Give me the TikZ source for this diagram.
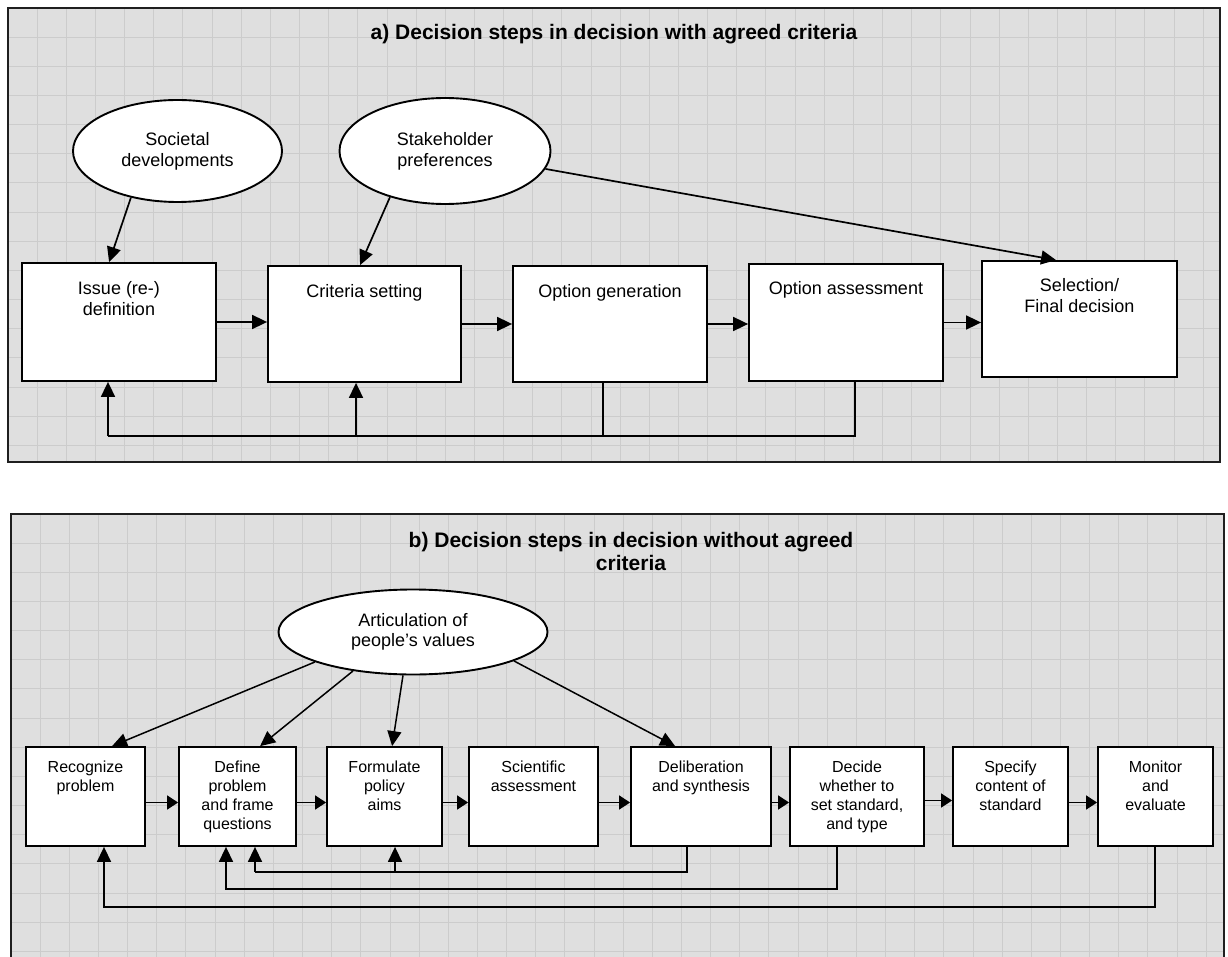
\documentclass[tikz,border=0pt]{standalone}
\usepackage{fontspec}
\setmainfont{Liberation Sans}
\usetikzlibrary{arrows.meta,shapes.geometric,calc}
\definecolor{bggray}{gray}{0.875}
\definecolor{gridgray}{gray}{0.80}
\definecolor{framecol}{gray}{0.12}
\begin{document}
\begin{tikzpicture}[x=1pt,y=-1pt,
  panelfill/.style={fill=bggray,draw=none},
  panelframe/.style={draw=framecol,line width=2.2pt},
  gridline/.style={draw=gridgray,line width=0.9pt},
  boxA/.style={draw=black,fill=white,line width=1.8pt,inner sep=0pt},
  boxB/.style={draw=black,fill=white,line width=1.8pt,inner sep=0pt},
  ell/.style={ellipse,draw=black,fill=white,line width=1.9pt,inner sep=0pt,align=center},
  lblA/.style={anchor=north,align=center,inner sep=0pt,font=\fontsize{18}{21}\selectfont},
  lblB/.style={anchor=north,align=center,inner sep=0pt,font=\fontsize{16}{18.7}\selectfont},
  ttl/.style={align=center,inner sep=0pt,font=\bfseries\fontsize{21}{23}\selectfont},
  lineA/.style={line width=1.7pt},
  arrA/.style={line width=1.7pt,-{Triangle[length=15pt,width=14pt]}},
  lineB/.style={line width=1.5pt},
  arrB/.style={line width=1.5pt,-{Triangle[length=15pt,width=14pt]}},
  arrBs/.style={line width=1.5pt,-{Triangle[length=11pt,width=14pt]}}
]
\useasboundingbox (0,0) rectangle (1228,957);
\clip (0,0) rectangle (1228,957);

% ---------------- panel a background ----------------
\fill[panelfill] (8,8) rectangle (1220,462);
\foreach \k in {1,...,41} \draw[gridline] ({8+29.15*\k},8) -- ({8+29.15*\k},462);
\foreach \k in {1,...,15} \draw[gridline] (8,{8+29.15*\k}) -- (1220,{8+29.15*\k});
\draw[panelframe] (8,8) rectangle (1220,462);

% ---------------- panel b background ----------------
\fill[panelfill] (11,514) rectangle (1224,980);
\foreach \k in {1,...,41} \draw[gridline] ({11+29.15*\k},514) -- ({11+29.15*\k},980);
\foreach \k in {1,...,16} \draw[gridline] (11,{514+29.15*\k}) -- (1224,{514+29.15*\k});
\draw[panelframe] (11,514) rectangle (1224,980);

% ---------------- panel a ----------------
\node[ttl] (ta) at (614,34) {a) Decision steps in decision with agreed criteria};

\node[ell,minimum width=209pt,minimum height=102pt,font=\fontsize{18}{21}\selectfont] (soc) at (177.5,151) {Societal\\developments};
\node[ell,minimum width=211pt,minimum height=106pt,font=\fontsize{18}{21}\selectfont] (stake) at (445,151) {Stakeholder\\preferences};

\node[boxA,minimum width=194pt,minimum height=118pt] (issue) at (119,322) {};
\node[boxA,minimum width=193pt,minimum height=116pt] (crit) at (364.5,324) {};
\node[boxA,minimum width=194pt,minimum height=116pt] (optg) at (610,324) {};
\node[boxA,minimum width=194pt,minimum height=117pt] (opta) at (846,322.5) {};
\node[boxA,minimum width=195pt,minimum height=116pt] (sel) at (1079.5,319) {};

\node[lblA] (tissue) at ([yshift=-19pt]issue.north) {Issue (re-)\\definition};
\node[lblA] (tcrit) at ([yshift=-19pt]crit.north) {Criteria setting};
\node[lblA] (toptg) at ([yshift=-19pt]optg.north) {Option generation};
\node[lblA] (topta) at ([yshift=-18pt]opta.north) {Option assessment};
\node[lblA] (tsel) at ([yshift=-18pt]sel.north) {Selection/\\Final decision};

\draw[arrA] (issue.east) -- (issue.east -| crit.west);
\draw[arrA] (crit.east) -- (crit.east -| optg.west);
\draw[arrA] (optg.east) -- (optg.east -| opta.west);
\draw[arrA] (opta.east) -- (opta.east -| sel.west);

\draw[arrA] (soc.225) -- ([xshift=88pt]issue.north west);
\draw[arrA] (stake.220) -- ([xshift=93pt]crit.north west);
\draw[arrA] (stake) -- ([xshift=75pt]sel.north west);

\coordinate (gR) at (855,436);
\coordinate (gG) at (603,436);
\coordinate (gL) at (108,436);
\coordinate (gC) at (356,436);
\draw[lineA] (opta.south -| gR) -- (gR) -- (gL);
\draw[lineA] (optg.south -| gG) -- (gG);
\draw[arrA] (gL) -- (gL |- issue.south);
\draw[arrA] (gC) -- (gC |- crit.south);

% ---------------- panel b ----------------
\node[ttl] (tb) at (631,551) {b) Decision steps in decision without agreed\\criteria};

\node[ell,minimum width=269pt,minimum height=85pt,font=\fontsize{18}{20}\selectfont] (art) at (413,632) {Articulation of\\people's values};

\node[boxB,minimum width=119pt,minimum height=99pt] (rec) at (85.5,796.5) {};
\node[boxB,minimum width=117pt,minimum height=99pt] (def) at (237.5,796.5) {};
\node[boxB,minimum width=115pt,minimum height=99pt] (form) at (384.5,796.5) {};
\node[boxB,minimum width=129pt,minimum height=99pt] (sci) at (533.5,796.5) {};
\node[boxB,minimum width=140pt,minimum height=99pt] (delib) at (701,796.5) {};
\node[boxB,minimum width=134pt,minimum height=99pt] (decide) at (857,796.5) {};
\node[boxB,minimum width=115pt,minimum height=99pt] (spec) at (1010.5,796.5) {};
\node[boxB,minimum width=115pt,minimum height=99pt] (mon) at (1155.5,796.5) {};

\node[lblB] (trec) at ([yshift=-15pt]rec.north) {Recognize\\problem};
\node[lblB] (tdef) at ([yshift=-15pt]def.north) {Define\\problem\\and frame\\questions};
\node[lblB] (tform) at ([yshift=-15pt]form.north) {Formulate\\policy\\aims};
\node[lblB] (tsci) at ([yshift=-15pt]sci.north) {Scientific\\assessment};
\node[lblB] (tdelib) at ([yshift=-15pt]delib.north) {Deliberation\\and synthesis};
\node[lblB] (tdecide) at ([yshift=-15pt]decide.north) {Decide\\whether to\\set standard,\\and type};
\node[lblB] (tspec) at ([yshift=-15pt]spec.north) {Specify\\content of\\standard};
\node[lblB] (tmon) at ([yshift=-15pt]mon.north) {Monitor\\and\\evaluate};

\draw[arrBs] ([yshift=-6pt]rec.east) -- ([yshift=-6pt]rec.east -| def.west);
\draw[arrBs] ([yshift=-6pt]def.east) -- ([yshift=-6pt]def.east -| form.west);
\draw[arrBs] ([yshift=-6pt]form.east) -- ([yshift=-6pt]form.east -| sci.west);
\draw[arrBs] ([yshift=-6pt]sci.east) -- ([yshift=-6pt]sci.east -| delib.west);
\draw[arrBs] ([yshift=-6pt]delib.east) -- ([yshift=-6pt]delib.east -| decide.west);
\draw[arrBs] ([yshift=-4pt]decide.east) -- ([yshift=-4pt]decide.east -| spec.west);
\draw[arrBs] ([yshift=-6pt]spec.east) -- ([yshift=-6pt]spec.east -| mon.west);

\draw[arrB] (art.197) -- ([xshift=87pt]rec.north west);
\draw[arrB] (art.213) -- ([xshift=82pt]def.north west);
\draw[arrB] (art.257) -- ([xshift=66pt]form.north west);
\draw[arrB] (art.344) -- ([xshift=45pt]delib.north west);

\coordinate (f1r) at (687,872);
\coordinate (f1l) at (255,872);
\coordinate (f1m) at (395,872);
\draw[lineB] (delib.south -| f1r) -- (f1r) -- (f1l);
\draw[arrB] (f1l) -- (f1l |- def.south);
\draw[arrB] (f1m) -- (f1m |- form.south);

\coordinate (f2r) at (837,889);
\coordinate (f2l) at (226,889);
\draw[arrB] (decide.south -| f2r) -- (f2r) -- (f2l) -- (f2l |- def.south);

\coordinate (f3r) at (1155,907);
\coordinate (f3l) at (104,907);
\draw[arrB] (mon.south -| f3r) -- (f3r) -- (f3l) -- (f3l |- rec.south);
\end{tikzpicture}
\end{document}
